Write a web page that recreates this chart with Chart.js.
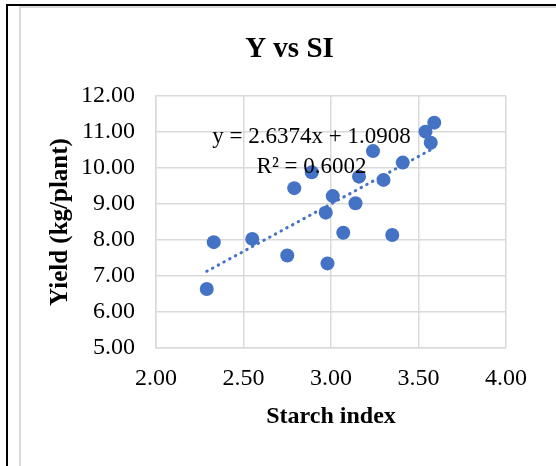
<!DOCTYPE html>
<html lang="en">
<head>
<meta charset="UTF-8">
<title>Y vs SI</title>
<script src="https://cdn.jsdelivr.net/npm/chart.js@4.4.1/dist/chart.umd.min.js"></script>
<style>
    html, body { margin: 0; padding: 0; background: #fff; }
    #wrap { position: relative; width: 556px; height: 466px; }
</style>
</head>
<body>
<div id="wrap"><canvas id="myChart" width="556" height="466"></canvas></div>
<script>
    // starch index (x) and yield (y)
    const starchIndex = [2.29, 2.33, 2.55, 2.75, 2.79, 2.89, 2.97, 2.98, 3.01, 3.07,
                         3.14, 3.16, 3.24, 3.30, 3.35, 3.41, 3.54, 3.57, 3.59];
    const yieldKg =     [6.64, 7.94, 8.03, 7.57, 9.44, 9.88, 8.76, 7.35, 9.22, 8.20,
                         9.02, 9.76, 10.47, 9.67, 8.14, 10.15, 11.01, 10.70, 11.26];

    // linear trendline as printed on the chart
    const slope = 2.6374,
        intercept = 1.0908,
        rSquared = '0.6002';

    const xTicks = [2.0, 2.5, 3.0, 3.5, 4.0];
    const yTicks = [5, 6, 7, 8, 9, 10, 11, 12];

    const serif = "'Liberation Serif', 'Times New Roman', serif";
    const blue = '#4472C4';
    const gridGray = '#d9d9d9';

    let points = starchIndex.map(function (x, i) {
        return {x: x, y: yieldKg[i]};
    });
    let xMin = Math.min.apply(null, starchIndex),
        xMax = Math.max.apply(null, starchIndex);
    let trend = [
        {x: xMin, y: slope * xMin + intercept},
        {x: xMax, y: slope * xMax + intercept}
    ];

    // white page with the black and grey frame lines
    const framePlugin = {
        id: 'frame',
        beforeDraw: function (chart) {
            let ctx = chart.ctx;
            ctx.save();
            ctx.fillStyle = '#fff';
            ctx.fillRect(0, 0, chart.width, chart.height);
            ctx.strokeStyle = gridGray;
            ctx.lineWidth = 2;
            ctx.beginPath();
            ctx.moveTo(20, chart.height);
            ctx.lineTo(20, 7);
            ctx.lineTo(chart.width, 7);
            ctx.stroke();
            ctx.strokeStyle = '#000';
            ctx.lineWidth = 2;
            ctx.beginPath();
            ctx.moveTo(7, chart.height);
            ctx.lineTo(7, 5);
            ctx.lineTo(chart.width, 5);
            ctx.stroke();
            ctx.restore();
        }
    };

    // chart title and the trendline label
    const textPlugin = {
        id: 'texts',
        afterDatasetsDraw: function (chart) {
            let ctx = chart.ctx,
                xs = chart.scales.x,
                ys = chart.scales.y;
            ctx.save();
            ctx.fillStyle = '#000';
            ctx.textAlign = 'center';
            ctx.textBaseline = 'alphabetic';
            ctx.font = 'bold 29px ' + serif;
            ctx.fillText('Y vs SI', 289.5, 57);

            let cx = xs.getPixelForValue(2.889);
            ctx.font = '23px ' + serif;
            ctx.fillText('y = ' + slope + 'x + ' + intercept, cx, ys.getPixelForValue(10.69));
            ctx.fillText('R\u00b2 = ' + rSquared, cx, ys.getPixelForValue(9.86));
            ctx.restore();
        }
    };

    let ctx = document.getElementById('myChart').getContext('2d');
    let chart = new Chart(ctx, {
        type: 'scatter',
        data: {
            datasets: [{
                type: 'line',
                label: 'Linear (Yield)',
                data: trend,
                borderColor: blue,
                borderWidth: 3,
                borderDash: [0.5, 6],
                borderCapStyle: 'round',
                pointRadius: 0,
                fill: false
            }, {
                label: 'Yield',
                data: points,
                backgroundColor: blue,
                borderColor: blue,
                borderWidth: 0,
                pointRadius: 7,
                pointHoverRadius: 7
            }]
        },
        plugins: [framePlugin, textPlugin],
        options: {
            responsive: false,
            devicePixelRatio: 1,
            animation: false,
            layout: {
                padding: {left: 20, right: 50, top: 96, bottom: 35}
            },
            plugins: {
                legend: {display: false},
                title: {display: false},
                tooltip: {enabled: false}
            },
            scales: {
                x: {
                    type: 'linear',
                    min: 2,
                    max: 4,
                    afterBuildTicks: function (scale) {
                        scale.ticks = xTicks.map(function (v) { return {value: v}; });
                    },
                    afterFit: function (scale) { scale.height = 83; },
                    grid: {color: gridGray, lineWidth: 1.5, drawTicks: false},
                    border: {display: true, color: gridGray, width: 1.5},
                    ticks: {
                        padding: 16,
                        color: '#000',
                        font: {family: serif, size: 24},
                        callback: function (v) { return Number(v).toFixed(2); }
                    },
                    title: {
                        display: true,
                        text: 'Starch index',
                        color: '#000',
                        padding: {top: 12, bottom: 0},
                        font: {family: serif, size: 24, weight: 'bold'}
                    }
                },
                y: {
                    type: 'linear',
                    min: 5,
                    max: 12,
                    afterBuildTicks: function (scale) {
                        scale.ticks = yTicks.map(function (v) { return {value: v}; });
                    },
                    afterFit: function (scale) { scale.width = 136; },
                    grid: {color: gridGray, lineWidth: 1.5, drawTicks: false},
                    border: {display: true, color: gridGray, width: 1.5},
                    ticks: {
                        padding: 21,
                        color: '#000',
                        font: {family: serif, size: 24},
                        callback: function (v) { return Number(v).toFixed(2); }
                    },
                    title: {
                        display: true,
                        text: 'Yield (kg/plant)',
                        color: '#000',
                        padding: {top: 26, bottom: 0},
                        font: {family: serif, size: 25, weight: 'bold'}
                    }
                }
            }
        }
    });
</script>
</body>
</html>
